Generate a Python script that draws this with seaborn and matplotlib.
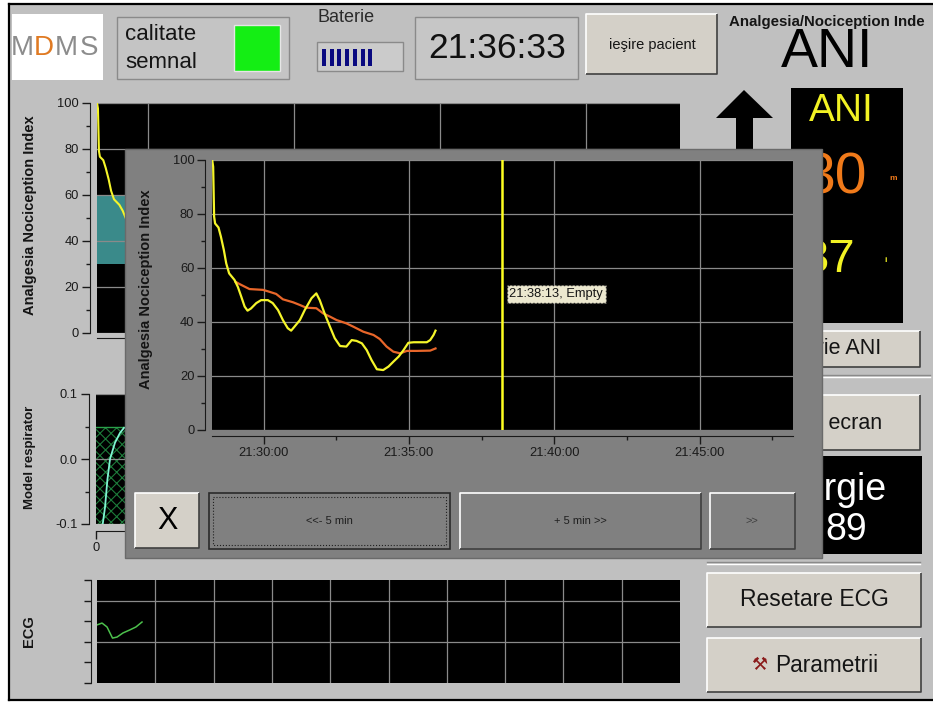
import numpy as np
import pandas as pd
import matplotlib.pyplot as plt
import matplotlib.dates as mdates
from matplotlib import font_manager
from matplotlib.patches import Rectangle, Polygon
import seaborn as sns

# --- data ---
DAY = '2024-01-01 '

# ANI instantaneous trend (yellow)
ani_times = ['21:28:14', '21:28:16', '21:28:18', '21:28:20', '21:28:27', '21:28:32', '21:28:38',
             '21:28:43', '21:28:49', '21:29:00', '21:29:07', '21:29:14', '21:29:21', '21:29:27',
             '21:29:34', '21:29:45', '21:29:55', '21:30:09', '21:30:19', '21:30:30', '21:30:40',
             '21:30:50', '21:30:57', '21:31:04', '21:31:15', '21:31:25', '21:31:39', '21:31:49',
             '21:31:56', '21:32:06', '21:32:17', '21:32:27', '21:32:38', '21:32:51', '21:33:02',
             '21:33:12', '21:33:23', '21:33:33', '21:33:43', '21:33:54', '21:34:07', '21:34:18',
             '21:34:28', '21:34:39', '21:34:49', '21:34:59', '21:35:10', '21:35:23', '21:35:37',
             '21:35:44', '21:35:51', '21:35:55']
ani_values = [100, 97.5, 79, 76.5, 75, 71.6, 66.7, 61.7, 58, 55.6, 53, 49.4, 45.7, 44.2, 45, 47,
              48.1, 48.1, 47, 44.4, 40.7, 37.7, 36.8, 38.3, 40.7, 44.4, 48.8, 50.6, 48.1, 43.2,
              38.3, 34, 31.1, 30.9, 33.3, 33, 32.1, 29.6, 25.9, 22.5, 22.2, 23.5, 25.3, 27.2,
              29.6, 32.3, 32.5, 32.5, 32.5, 33.3, 35.2, 36.8]

# ANIm averaged trend (orange)
anim_times = ['21:29:02', '21:29:10', '21:29:21', '21:29:31', '21:29:59', '21:30:12', '21:30:26',
              '21:30:40', '21:31:01', '21:31:15', '21:31:28', '21:31:49', '21:32:03', '21:32:17',
              '21:32:31', '21:32:51', '21:33:05', '21:33:26', '21:33:47', '21:34:00', '21:34:14',
              '21:34:28', '21:34:42', '21:34:56', '21:35:17', '21:35:44', '21:35:55']
anim_values = [54.9, 54.1, 53.1, 52.2, 51.9, 51.2, 50.4, 48.4, 47.3, 46.3, 45.3, 45.1, 43.2, 42,
               40.7, 39.5, 38.3, 36.4, 35.2, 33.7, 30.9, 29, 28.4, 29.3, 29.3, 29.4, 30.2]

window_start = '21:28:13'
window_end = '21:48:13'
cursor_time = '21:38:13'
cursor_label = '21:38:13, Empty'
time_ticks = ['21:30:00', '21:35:00', '21:40:00', '21:45:00']
time_minor = ['21:32:30', '21:37:30', '21:42:30', '21:47:30']
ani_ticks = [0, 20, 40, 60, 80, 100]
ani_minor = [10, 30, 50, 70, 90]
comfort_band = [30, 60]

# ventilator model strip
resp_x = [0.23, 0.31, 0.39, 0.48, 0.65, 0.82, 0.96]
resp_y = [-0.1, -0.074, -0.032, 0.0, 0.025, 0.040, 0.048]
resp_ticks = [-0.1, 0.0, 0.1]
resp_labels = ['-0.1', '0.0', '0.1']
resp_fill = [-0.1, 0.05]

# ECG strip
ecg_x = [0, 0.043, 0.086, 0.133, 0.172, 0.223, 0.279, 0.334, 0.386]
ecg_y = [2.82, 2.91, 2.72, 2.18, 2.23, 2.43, 2.57, 2.72, 2.96]
ecg_grid_x = [0.5, 1, 1.5, 2, 2.5, 3, 3.5, 4, 4.5]

clock_text = '21:36:33'
battery_bars = 7
anim_display = '30'
ani_display = '37'
energy_display = '89'

W, H = 933, 702
names = {f.name for f in font_manager.fontManager.ttflist}
SANS = 'Liberation Sans'
HAS_NARROW = 'Liberation Sans Narrow' in names
NARROW = 'Liberation Sans Narrow' if HAS_NARROW else 'Liberation Sans'
TICK_SIZE = 10.5 if HAS_NARROW else 9.3
plt.rcParams['font.family'] = [NARROW, 'DejaVu Sans']
plt.rcParams['hatch.linewidth'] = 0.8

fig = plt.figure(figsize=(W / 100, H / 100), dpi=100)
fig.patch.set_facecolor('white')


def t(s):
    return pd.Timestamp(DAY + s)


def px_axes(x0, y0, x1, y1, z):
    return fig.add_axes([x0 / W, 1 - y1 / H, (x1 - x0) / W, (y1 - y0) / H], zorder=z)


def canvas(z):
    ax = px_axes(0, 0, W, H, z)
    ax.set_xlim(0, W)
    ax.set_ylim(H, 0)
    ax.axis('off')
    return ax


def rect(ax, x0, y0, x1, y1, **kw):
    ax.add_patch(Rectangle((x0, y0), x1 - x0, y1 - y0, **kw))


def bevel(ax, x0, y0, x1, y1, light='white', dark='#404040', lw=1.2):
    ax.plot([x0, x0, x1], [y1, y0, y0], color=light, lw=lw, solid_capstyle='butt')
    ax.plot([x0, x1, x1], [y1, y1, y0], color=dark, lw=lw, solid_capstyle='butt')


def button(ax, x0, y0, x1, y1, face='#d4d0c8'):
    rect(ax, x0, y0, x1, y1, facecolor=face, edgecolor='none')
    bevel(ax, x0, y0, x1, y1)


def label(ax, x, y, s, size, family=SANS, **kw):
    kw.setdefault('ha', 'center')
    kw.setdefault('va', 'center')
    kw.setdefault('color', '#151515')
    ax.text(x, y, s, fontsize=size, family=[family, 'DejaVu Sans'], **kw)


def style_axes(ax, left_out, bottom_out):
    ax.set_facecolor('black')
    for side in ['top', 'right']:
        ax.spines[side].set_visible(False)
    ax.spines['left'].set_position(('outward', left_out))
    ax.spines['bottom'].set_position(('outward', bottom_out))
    for side in ['left', 'bottom']:
        ax.spines[side].set_color('#1a1a1a')
    ax.tick_params(which='major', length=6, width=1, color='#1a1a1a',
                   labelsize=TICK_SIZE, labelcolor='#1a1a1a', pad=2)
    ax.tick_params(which='minor', length=3, width=1, color='#1a1a1a')
    ax.set_xlabel('')


def ylabel(ax, text, xfrac, yfrac, size=10.5):
    ax.set_ylabel(text, fontsize=size, fontweight='bold', family=[SANS, 'DejaVu Sans'],
                  color='#151515')
    ax.yaxis.set_label_coords(xfrac, yfrac)


# ANI trend axes: shared styling for background and popup chart
def style_trend(ax):
    ax.set_yticks(ani_ticks)
    ax.set_yticks(ani_minor, minor=True)
    ax.set_xticks([t(s) for s in time_ticks])
    ax.set_xticks([t(s) for s in time_minor], minor=True)
    ax.xaxis.set_major_formatter(mdates.DateFormatter('%H:%M:%S'))
    ax.set_xlim(t(window_start), t(window_end))
    ax.set_ylim(0, 100)
    ax.grid(True, which='major', color='#8a8a8a', lw=0.9)


def draw_background(ax):
    rect(ax, 9, 4, W, 700, facecolor='#c0c0c0', edgecolor='none')
    ax.plot([9, W], [4, 4], color='black', lw=1.6)
    ax.plot([9, 9], [4, 700], color='black', lw=1.6)
    ax.plot([9, W], [700, 700], color='black', lw=1.6)

    # logo
    rect(ax, 12, 14, 103, 80, facecolor='white', edgecolor='none')
    for x, ch, col in [(22, 'M', '#8c8c8c'), (44, 'D', '#e07a22'), (66, 'M', '#8c8c8c'),
                       (89, 'S', '#8c8c8c')]:
        label(ax, x, 48, ch, 20, family=NARROW, color=col)

    # signal quality
    rect(ax, 117, 17, 289, 79, facecolor='#c4c4c4', edgecolor='#8a8a8a', lw=1)
    label(ax, 125, 34, 'calitate', 16, ha='left')
    label(ax, 125, 62, 'semnal', 16, ha='left')
    rect(ax, 234, 25, 280, 71, facecolor='#14ee14', edgecolor='#e6e6e6', lw=1)

    # battery
    label(ax, 346, 18, 'Baterie', 13, color='#2a2a2a')
    rect(ax, 317, 42, 403, 71, facecolor='#cbcbcb', edgecolor='#8a8a8a', lw=1)
    for i in range(battery_bars):
        rect(ax, 322 + i * 7.7, 49, 326 + i * 7.7, 66, facecolor='#0a0a80', edgecolor='none')

    # clock
    rect(ax, 415, 17, 578, 79, facecolor='#c6c6c6', edgecolor='#8a8a8a', lw=1)
    label(ax, 497, 48, clock_text, 25.5, color='#111111')

    button(ax, 586, 14, 717, 74)
    label(ax, 652, 45, 'ieşire pacient', 10.5)

    # title runs off the screen edge on the device
    label(ax, 729, 22, 'Analgesia/Nociception Inde', 10.8, ha='left', fontweight='bold')
    label(ax, 827, 53, 'ANI', 40, color='black')

    # arrow
    ax.add_patch(Polygon([(744, 90), (773, 118), (753, 118), (753, 170), (736, 170),
                          (736, 118), (716, 118)], closed=True, facecolor='black'))

    # ANI numeric box
    rect(ax, 790.7, 88, 902.7, 323, facecolor='black', edgecolor='none')
    label(ax, 841, 111, 'ANI', 28, color='#f2f224')
    label(ax, 867, 178, anim_display, 41, ha='right', color='#f07a1a')
    label(ax, 893, 178, 'm', 6, color='#f07a1a', fontweight='bold')
    label(ax, 855, 260, ani_display, 34, ha='right', color='#f2f224')
    label(ax, 886, 260, 'i', 6, color='#f2f224', fontweight='bold')

    button(ax, 730, 331, 920, 367)
    label(ax, 881, 349, 'Istorie ANI', 15.5, ha='right')
    ax.plot([705, 930], [375, 375], color='#8a8a8a', lw=1)
    ax.plot([705, 930], [376.5, 376.5], color='white', lw=1)

    button(ax, 730, 395, 920, 450)
    label(ax, 882, 423, 'Captura ecran', 15.5, ha='right')

    rect(ax, 730, 456, 922, 554, facecolor='black', edgecolor='none')
    label(ax, 887, 490, 'Energie', 27, ha='right', color='white')
    label(ax, 867, 530, energy_display, 27, ha='right', color='white')
    ax.plot([707, 920], [562, 562], color='#8a8a8a', lw=1)
    ax.plot([707, 920], [563.5, 563.5], color='white', lw=1)

    button(ax, 707, 573, 921, 627)
    label(ax, 814, 600, 'Resetare ECG', 16.5)
    button(ax, 707, 638, 921, 692)
    label(ax, 759, 665, '⚒', 13, family='DejaVu Sans', color='#8a1a1a')
    label(ax, 775, 665, 'Parametrii', 16.3, ha='left')


def draw_ani_background():
    ax = px_axes(96.5, 102.7, 679.5, 332.7, 1)
    ax.axhspan(*comfort_band, color='#3a8a8a', lw=0)
    sns.lineplot(x=[t(s) for s in ani_times], y=ani_values, color='#f5f52a', lw=1.5, ax=ax)
    style_axes(ax, 4.5, 4)
    style_trend(ax)
    ax.tick_params(axis='x', labelbottom=False)
    ylabel(ax, 'Analgesia Nociception Index', -0.102, 0.512)


def draw_respirator():
    ax = px_axes(96, 394, 680, 524, 1)
    ax.axhspan(*resp_fill, facecolor='none', edgecolor='#1d7b3a', hatch='xxx', lw=0)
    ax.axhline(resp_fill[1], color='#2aa04a', lw=1)
    sns.lineplot(x=resp_x, y=resp_y, color='#7ff5d2', lw=1.3, ax=ax, sort=False)
    style_axes(ax, 5, 5)
    ax.set_yticks(resp_ticks)
    ax.set_yticklabels(resp_labels)
    ax.set_yticks([-0.05, 0.05], minor=True)
    ax.set_xticks([0, 5, 10, 15, 20])
    ax.set_xlim(0, 20)
    ax.set_ylim(-0.1, 0.1)
    ax.grid(True, axis='y', which='major', color='#8a8a8a', lw=0.9)
    ylabel(ax, 'Model respirator', -0.103, 0.515, size=9.5)


def draw_ecg():
    ax = px_axes(97, 580, 680, 683, 1)
    sns.lineplot(x=ecg_x, y=ecg_y, color='#4cc04c', lw=1.1, ax=ax, sort=False)
    style_axes(ax, 4.5, 0)
    ax.spines['bottom'].set_visible(False)
    ax.set_xticks(ecg_grid_x)
    ax.tick_params(axis='x', length=0, labelbottom=False)
    ax.set_yticks([2, 4])
    ax.set_yticks([0, 1, 3, 5], minor=True)
    ax.tick_params(axis='y', which='both', length=5, labelleft=False)
    ax.set_xlim(0, 5)
    ax.set_ylim(0, 5)
    ax.grid(True, which='major', color='#8a8a8a', lw=0.9)
    ylabel(ax, 'ECG', -0.105, 0.5)


def draw_popup_frame(ax):
    rect(ax, 125, 149, 822, 558, facecolor='#808080', edgecolor='#6a6a6a', lw=1)
    button(ax, 134.5, 493, 199, 548)
    label(ax, 167, 521, 'X', 22, color='black')
    rect(ax, 209, 493, 450, 549, facecolor='#808080', edgecolor='#2a2a2a', lw=1.2)
    rect(ax, 213, 497, 446, 545, facecolor='none', edgecolor='#202020', lw=0.8, ls=':')
    label(ax, 329.5, 521, '<<- 5 min', 8, family=NARROW, color='#202020')
    button(ax, 460, 493, 701, 549, face='#808080')
    label(ax, 580, 521, '+ 5 min >>', 8, family=NARROW, color='#202020')
    button(ax, 710, 493, 795, 549, face='#808080')
    label(ax, 752, 521, '>>', 8, family=NARROW, color='#404040')


def draw_popup_chart():
    ax = px_axes(211.7, 160, 793, 430, 3)
    sns.lineplot(x=[t(s) for s in anim_times], y=anim_values, color='#e8662a', lw=1.6, ax=ax)
    sns.lineplot(x=[t(s) for s in ani_times], y=ani_values, color='#f5f52a', lw=1.6, ax=ax)
    ax.axvline(t(cursor_time), color='#ffff20', lw=1.8)
    ax.annotate(cursor_label, xy=(t(cursor_time), 50.4), xytext=(5, 0),
                textcoords='offset points', ha='left', va='center', fontsize=TICK_SIZE,
                family=[NARROW, 'DejaVu Sans'], color='#151515',
                bbox=dict(boxstyle='square,pad=0.2', fc='#ece8cf', ec='#202020', ls=':', lw=1))
    style_axes(ax, 4.5, 4.5)
    style_trend(ax)
    ylabel(ax, 'Analgesia Nociception Index', -0.101, 0.521)


def main():
    ax_bg = canvas(0)
    draw_background(ax_bg)
    draw_ani_background()
    draw_respirator()
    draw_ecg()
    ax_ov = canvas(2)
    draw_popup_frame(ax_ov)
    draw_popup_chart()
    fig.savefig('out.png', dpi=100, facecolor=fig.get_facecolor())


if __name__ == "__main__":
    main()
